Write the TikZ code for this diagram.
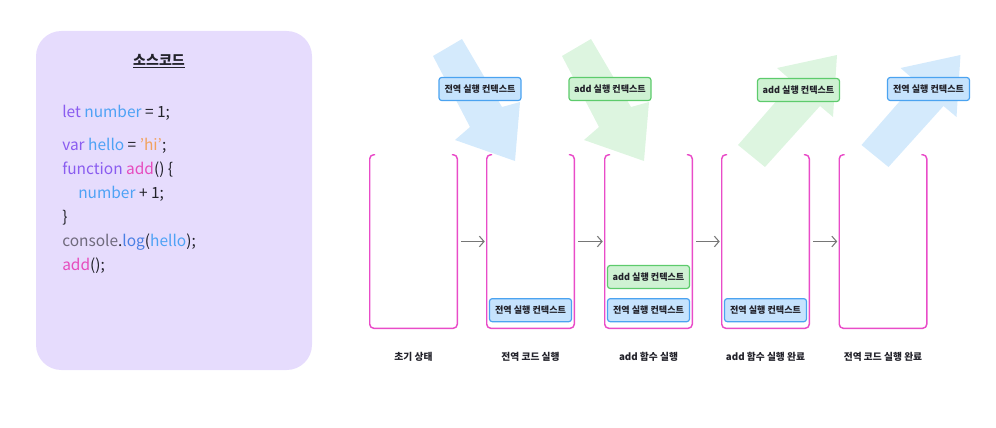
\documentclass[tikz,border=0pt]{standalone}
\usepackage{fontspec}
\setmainfont{Noto Sans CJK KR}
\usetikzlibrary{positioning,arrows.meta}

\definecolor{srcbg}{HTML}{E6DCFD}
\definecolor{ink}{HTML}{22222A}
\definecolor{kw}{HTML}{8A5CF0}
\definecolor{ident}{HTML}{4EA2F5}
\definecolor{fn}{HTML}{E64CBE}
\definecolor{str}{HTML}{F2A25E}
\definecolor{obj}{HTML}{6F6A7C}
\definecolor{meth}{HTML}{4A7FE4}
\definecolor{stackpink}{HTML}{E94CC8}
\definecolor{gblfill}{HTML}{C6E3FD}
\definecolor{gbldraw}{HTML}{4BA3F0}
\definecolor{addfill}{HTML}{CFF2D3}
\definecolor{adddraw}{HTML}{5DCB6C}
\definecolor{gblarrow}{HTML}{D4EAFC}
\definecolor{addarrow}{HTML}{DDF5E0}
\definecolor{flowgray}{HTML}{767676}

% open-topped call stack drawn round a stack node
\newcommand{\openstack}[1]{%
  \draw[stackline] ([xshift=4pt]#1.north west) -- (#1.north west)
    -- (#1.south west) -- (#1.south east) -- (#1.north east)
    -- ([xshift=-4pt]#1.north east);}

\begin{document}
\begin{tikzpicture}[x=0.75pt,y=-0.75pt,>={Straight Barb[length=3.5pt,width=8pt]},
  every node/.style={inner sep=0pt},
  codeline/.style={anchor=west,font=\fontsize{11.6}{13}\selectfont,text=ink},
  stack/.style={minimum width=65.25pt,minimum height=129.75pt},
  stackline/.style={stackpink,line width=1.1pt,rounded corners=3pt},
  ctx/.style={draw,rounded corners=2pt,line width=0.9pt,minimum width=61.5pt,
    minimum height=17.25pt,font=\fontsize{6.8}{8}\selectfont\bfseries,text=ink},
  gblctx/.style={ctx,fill=gblfill,draw=gbldraw},
  addctx/.style={ctx,fill=addfill,draw=adddraw},
  steplabel/.style={font=\fontsize{7.3}{9}\selectfont\bfseries,text=ink},
  flow/.style={->,flowgray,line width=0.8pt,shorten <=3pt,shorten >=1.5pt}]
\useasboundingbox (0,0) rectangle (996,428);

% source code panel
\fill[srcbg,rounded corners=19pt] (36,31) rectangle (312,370);
\node[font=\fontsize{10.5}{12}\selectfont\bfseries,text=ink] (title) at (159,61) {\underline{소스코드}};
\node[codeline] (letline) at (62,113) {\textcolor{kw}{let} \textcolor{ident}{number} = 1;};
\node[codeline] (varline) at (62,146) {\textcolor{kw}{var} \textcolor{ident}{hello} = \textcolor{str}{'hi'};};
\node[codeline] (funcline) at (62,170) {\textcolor{kw}{function} \textcolor{fn}{add}() \{};
\node[codeline] (bodyline) at (78,194) {\textcolor{ident}{number} + 1;};
\node[codeline] (closeline) at (62,218) {\}};
\node[codeline] (logline) at (62,242) {\textcolor{obj}{console}.\textcolor{meth}{log}(\textcolor{ident}{hello});};
\node[codeline] (callline) at (62,266) {\textcolor{fn}{add}();};

% push / pop arrows
\fill[gblarrow] (433,56) -- (462,39) -- (502,107) -- (520,102) -- (515,161) -- (455,140) -- (470,127) -- cycle;
\fill[addarrow] (562,56) -- (591,39) -- (631,107) -- (649,102) -- (644,161) -- (584,140) -- (599,127) -- cycle;
\fill[addarrow] (738,145) -- (765,167) -- (820,106) -- (833,117) -- (837,55) -- (777,68) -- (793,82) -- cycle;
\fill[gblarrow] (861.5,145) -- (888.5,167) -- (943.5,106) -- (956.5,117) -- (960.5,55) -- (900.5,68) -- (916.5,82) -- cycle;

\node[gblctx] (pushgbl) at (480,89) {전역 실행 컨텍스트};
\node[addctx] (pushadd) at (610,89) {add 실행 컨텍스트};
\node[addctx] (popadd) at (798.5,90) {add 실행 컨텍스트};
\node[gblctx] (popgbl) at (928.5,89) {전역 실행 컨텍스트};

% call stacks
\node[stack] (st1) at (413.5,241.5) {};
\node[stack] (st2) at (530.5,241.5) {};
\node[stack] (st3) at (648.5,241.5) {};
\node[stack] (st4) at (765.5,241.5) {};
\node[stack] (st5) at (883,241.5) {};
\openstack{st1}
\openstack{st2}
\openstack{st3}
\openstack{st4}
\openstack{st5}

\node[gblctx,above=4.5pt of st2.south] (gbl2) {전역 실행 컨텍스트};
\node[gblctx,above=4.5pt of st3.south] (gbl3) {전역 실행 컨텍스트};
\node[addctx,above=6.75pt of gbl3] (add3) {add 실행 컨텍스트};
\node[gblctx,above=4.5pt of st4.south] (gbl4) {전역 실행 컨텍스트};

\draw[flow] (st1) -- (st2);
\draw[flow] (st2) -- (st3);
\draw[flow] (st3) -- (st4);
\draw[flow] (st4) -- (st5);

\node[steplabel,below=17.5pt of st1.south] (lab1) {초기 상태};
\node[steplabel,below=17.5pt of st2.south] (lab2) {전역 코드 실행};
\node[steplabel,below=17.5pt of st3.south] (lab3) {add 함수 실행};
\node[steplabel,below=17.5pt of st4.south] (lab4) {add 함수 실행 완료};
\node[steplabel,below=17.5pt of st5.south] (lab5) {전역 코드 실행 완료};
\end{tikzpicture}
\end{document}
